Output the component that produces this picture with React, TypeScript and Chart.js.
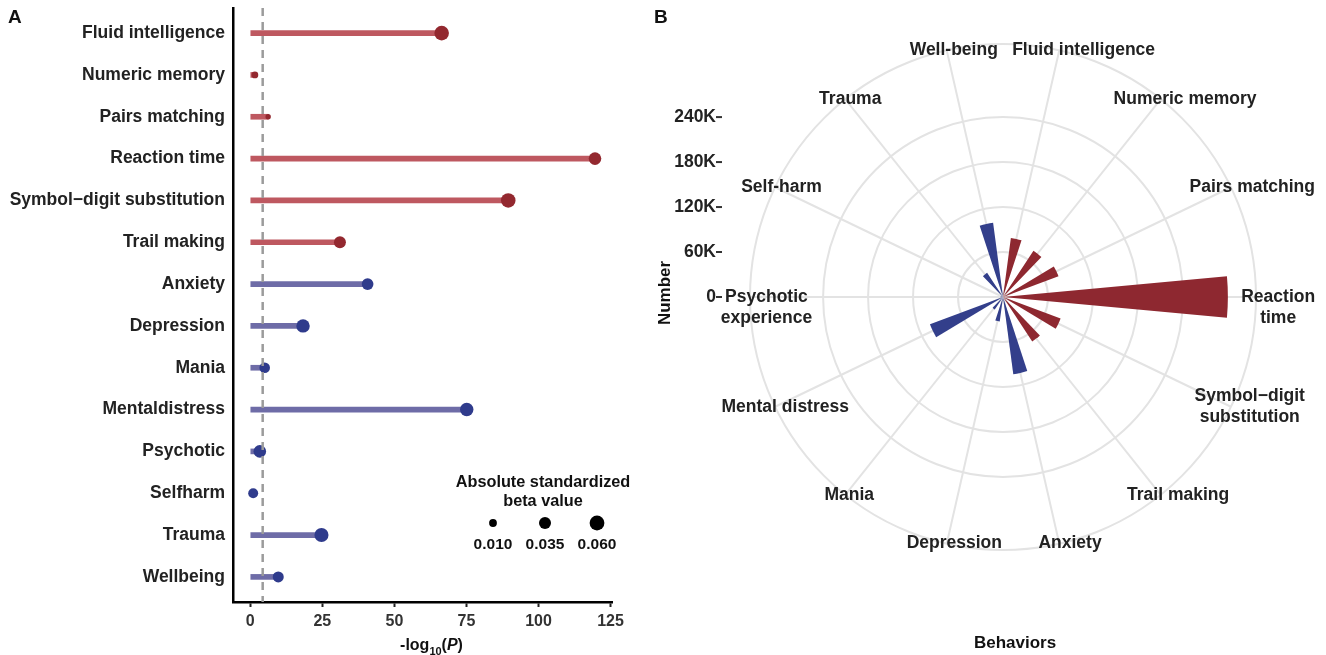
import React, { useEffect, useRef } from "react";
import { Chart, registerables } from "chart.js";

Chart.register(...registerables);

const FONT = '"Liberation Sans", Arial, Helvetica, sans-serif';
Chart.defaults.font.family = FONT;

// ---------- Panel A data ----------
const lollipopCategories = [
  "Fluid intelligence",
  "Numeric memory",
  "Pairs matching",
  "Reaction time",
  "Symbol\u2212digit substitution",
  "Trail making",
  "Anxiety",
  "Depression",
  "Mania",
  "Mentaldistress",
  "Psychotic",
  "Selfharm",
  "Trauma",
  "Wellbeing",
];
const behaviorGroup = [
  "cognition", "cognition", "cognition", "cognition", "cognition", "cognition",
  "mental", "mental", "mental", "mental", "mental", "mental", "mental", "mental",
];
const negLog10P = [66.4, 1.6, 6.2, 119.6, 89.5, 31.1, 40.7, 18.3, 5.0, 75.1, 3.3, 1.0, 24.7, 9.7];
const absBeta = [0.058, 0.006, 0.0025, 0.04, 0.058, 0.035, 0.033, 0.047, 0.025, 0.047, 0.04, 0.021, 0.053, 0.028];
const significanceThreshold = 4.3;
const xTickValues = [0, 25, 50, 75, 100, 125];
const xAxisMin = -6.0;
const xAxisMax = 125.5;
const sizeLegendValues = [0.01, 0.035, 0.06];
const sizeLegendLabels = ["0.010", "0.035", "0.060"];

// ---------- Panel B data ----------
const polarLabels = [
  ["Fluid intelligence"],
  ["Numeric memory"],
  ["Pairs matching"],
  ["Reaction", "time"],
  ["Symbol\u2212digit", "substitution"],
  ["Trail making"],
  ["Anxiety"],
  ["Depression"],
  ["Mania"],
  ["Mental distress"],
  ["Psychotic", "experience"],
  ["Self-harm"],
  ["Trauma"],
  ["Well-being"],
];
const sampleNumbers = [79500, 74000, 79000, 300000, 82000, 71000, 104000, 33000, 20000, 104000, 4000, 3000, 38600, 100000];
const radialTickValues = [0, 60000, 120000, 180000, 240000];
const radialTickLabels = ["0", "60K", "120K", "180K", "240K"];

const COLORS = {
  cognitionLine: "#be5860",
  cognitionDot: "#93282f",
  mentalLine: "#6e6ca7",
  mentalDot: "#2f3b8c",
  cognitionBar: "#8e2830",
  mentalBar: "#333f8b",
  grid: "#e3e3e3",
  text: "#222222",
};

const betaToRadius = (b: number) => 1.5 + 24 * Math.sqrt(b);
const BAR_WIDTH_FRACTION = 0.41;

const pointAt = (scale: any, angle: number, dist: number) => ({
  x: scale.xCenter + Math.cos(angle) * dist,
  y: scale.yCenter + Math.sin(angle) * dist,
});

const panelAPlugin = {
  id: "panelA",
  afterDatasetsDraw(chart: any) {
    const { ctx, chartArea, scales } = chart;
    const px = scales.x.getPixelForValue(significanceThreshold);
    ctx.save();
    ctx.strokeStyle = "#9b9b9b";
    ctx.lineWidth = 2.5;
    ctx.setLineDash([8, 6]);
    ctx.beginPath();
    ctx.moveTo(px, chartArea.top);
    ctx.lineTo(px, chartArea.bottom);
    ctx.stroke();
    ctx.restore();
  },
  afterDraw(chart: any) {
    const { ctx, chartArea } = chart;
    ctx.save();
    ctx.fillStyle = "#111";
    ctx.textBaseline = "middle";
    ctx.font = `bold 19px ${FONT}`;
    ctx.textAlign = "left";
    ctx.fillText("A", 8, 18);

    const parts = [
      { t: "-log", f: `bold 16px ${FONT}`, dy: 0 },
      { t: "10", f: `bold 11px ${FONT}`, dy: 5 },
      { t: "(", f: `bold 16px ${FONT}`, dy: 0 },
      { t: "P", f: `italic bold 16px ${FONT}`, dy: 0 },
      { t: ")", f: `bold 16px ${FONT}`, dy: 0 },
    ];
    let total = 0;
    parts.forEach((p) => {
      ctx.font = p.f;
      total += ctx.measureText(p.t).width;
    });
    let x = (chartArea.left + chartArea.right) / 2 + 9 - total / 2;
    ctx.textBaseline = "alphabetic";
    parts.forEach((p) => {
      ctx.font = p.f;
      ctx.fillText(p.t, x, 650 + p.dy);
      x += ctx.measureText(p.t).width;
    });

    const cx = chartArea.right - 67;
    const top = chartArea.bottom - 119;
    ctx.textAlign = "center";
    ctx.textBaseline = "middle";
    ctx.font = `bold 16.3px ${FONT}`;
    ctx.fillText("Absolute standardized", cx - 2, top);
    ctx.fillText("beta value", cx - 2, top + 19);
    ctx.font = `bold 15.5px ${FONT}`;
    sizeLegendValues.forEach((b, i) => {
      const lx = cx - 52 + i * 52;
      ctx.beginPath();
      ctx.fillStyle = "#000";
      ctx.arc(lx, top + 40, betaToRadius(b), 0, Math.PI * 2);
      ctx.fill();
      ctx.fillStyle = "#111";
      ctx.fillText(sizeLegendLabels[i], lx, top + 62);
    });
    ctx.restore();
  },
};

const panelBPlugin = {
  id: "panelB",
  afterDatasetsUpdate(chart: any) {
    const meta = chart.getDatasetMeta(0);
    meta.data.forEach((arc: any) => {
      const mid = (arc.startAngle + arc.endAngle) / 2;
      const half = ((arc.endAngle - arc.startAngle) / 2) * BAR_WIDTH_FRACTION;
      arc.startAngle = mid - half;
      arc.endAngle = mid + half;
    });
  },
  beforeDatasetsDraw(chart: any) {
    const { ctx } = chart;
    const scale = chart.scales.r;
    const n = polarLabels.length;
    ctx.save();
    ctx.strokeStyle = COLORS.grid;
    ctx.lineWidth = 2;
    for (let i = 0; i < n; i++) {
      const angle = scale.getIndexAngle(i) + Math.PI / n - Math.PI / 2;
      const end = pointAt(scale, angle, scale.drawingArea);
      ctx.beginPath();
      ctx.moveTo(scale.xCenter, scale.yCenter);
      ctx.lineTo(end.x, end.y);
      ctx.stroke();
    }
    ctx.restore();
  },
  afterDraw(chart: any) {
    const { ctx } = chart;
    const scale = chart.scales.r;
    const n = polarLabels.length;
    ctx.save();
    ctx.fillStyle = COLORS.text;
    ctx.textBaseline = "middle";

    ctx.font = `bold 17.5px ${FONT}`;
    const lh = 21;
    polarLabels.forEach((lines, i) => {
      const angle = scale.getIndexAngle(i) + Math.PI / n - Math.PI / 2;
      const p = pointAt(scale, angle, scale.drawingArea);
      const w = Math.max(...lines.map((l) => ctx.measureText(l).width));
      const horizontal = Math.abs(Math.sin(angle)) < 0.05;
      const rightSide = Math.cos(angle) > 0;
      const frac = horizontal ? (rightSide ? 0.2 : 0.32) : rightSide ? 0.33 : 0.42;
      const left = p.x - frac * w;
      const firstY = horizontal ? p.y : p.y - ((lines.length - 1) * lh) / 2;
      ctx.textAlign = "center";
      lines.forEach((l, k) => ctx.fillText(l, left + w / 2, firstY + k * lh));
    });

    const axisX = scale.xCenter - scale.drawingArea - 28;
    ctx.font = `bold 17.5px ${FONT}`;
    ctx.textAlign = "right";
    ctx.strokeStyle = "#333";
    ctx.lineWidth = 2;
    radialTickValues.forEach((v, i) => {
      const y = scale.yCenter - scale.getDistanceFromCenterForValue(v);
      ctx.fillText(radialTickLabels[i], axisX - 6, y);
      ctx.beginPath();
      ctx.moveTo(axisX - 6, y);
      ctx.lineTo(axisX, y);
      ctx.stroke();
    });

    ctx.fillStyle = "#111";
    ctx.font = `bold 17px ${FONT}`;
    ctx.textAlign = "center";
    ctx.fillText("Behaviors", scale.xCenter + 12, 643);
    ctx.save();
    ctx.translate(axisX - 57, scale.yCenter - 4);
    ctx.rotate(-Math.PI / 2);
    ctx.fillText("Number", 0, 0);
    ctx.restore();

    ctx.font = `bold 19px ${FONT}`;
    ctx.textAlign = "left";
    ctx.fillText("B", 14, 18);
    ctx.restore();
  },
};

export default function App() {
  const refA = useRef<HTMLCanvasElement | null>(null);
  const refB = useRef<HTMLCanvasElement | null>(null);

  useEffect(() => {
    const lineColors = behaviorGroup.map((g) => (g === "cognition" ? COLORS.cognitionLine : COLORS.mentalLine));
    const dotColors = behaviorGroup.map((g) => (g === "cognition" ? COLORS.cognitionDot : COLORS.mentalDot));
    const barColors = behaviorGroup.map((g) => (g === "cognition" ? COLORS.cognitionBar : COLORS.mentalBar));
    const points = negLog10P.map((v, i) => ({ x: v, y: i }));

    const chartA = new Chart(refA.current as HTMLCanvasElement, {
      type: "bar",
      data: {
        datasets: [
          {
            type: "scatter",
            data: points,
            pointRadius: absBeta.map(betaToRadius),
            pointHoverRadius: absBeta.map(betaToRadius),
            pointBackgroundColor: dotColors,
            pointBorderWidth: 0,
            order: 0,
          } as any,
          {
            type: "bar",
            data: points,
            backgroundColor: lineColors,
            barThickness: 5,
            borderWidth: 0,
            order: 1,
          } as any,
        ],
      },
      options: {
        indexAxis: "y",
        animation: false,
        responsive: false,
        maintainAspectRatio: false,
        layout: { padding: { left: 0, top: 8, right: 28, bottom: 0 } },
        plugins: { legend: { display: false }, tooltip: { enabled: false } },
        scales: {
          x: {
            type: "linear",
            position: "bottom",
            min: xAxisMin,
            max: xAxisMax,
            afterBuildTicks: (s: any) => {
              s.ticks = xTickValues.map((v) => ({ value: v }));
            },
            afterFit: (s: any) => {
              s.height = 53;
              s.paddingLeft = 0;
              s.paddingRight = 0;
            },
            grid: { display: true, drawOnChartArea: false, drawTicks: true, tickLength: 5, tickWidth: 2, tickColor: "#222" },
            border: { display: true, color: "#000", width: 2.5 },
            ticks: { autoSkip: false, maxRotation: 0, padding: 5, color: "#333", font: { size: 16, weight: "bold" } },
          },
          y: {
            type: "linear",
            position: "left",
            min: -0.6,
            max: 13.6,
            reverse: true,
            offset: false,
            afterBuildTicks: (s: any) => {
              s.ticks = lollipopCategories.map((_, i) => ({ value: i }));
            },
            afterFit: (s: any) => {
              s.width = 233;
              s.paddingTop = 0;
              s.paddingBottom = 0;
            },
            grid: { display: false, drawTicks: false },
            border: { display: true, color: "#000", width: 2.5 },
            ticks: {
              autoSkip: false,
              padding: 8,
              color: COLORS.text,
              font: { size: 17.5, weight: "bold" },
              callback: (v: any) => lollipopCategories[v as number],
            },
          },
        },
      } as any,
      plugins: [panelAPlugin],
    });

    const chartB = new Chart(refB.current as HTMLCanvasElement, {
      type: "polarArea",
      data: {
        labels: polarLabels.map((l) => l.join(" ")),
        datasets: [{ data: sampleNumbers, backgroundColor: barColors, borderWidth: 0 }],
      },
      options: {
        animation: false,
        responsive: false,
        maintainAspectRatio: false,
        layout: { padding: { left: 110, top: 44, right: 70, bottom: 105 } },
        plugins: { legend: { display: false }, tooltip: { enabled: false } },
        scales: {
          r: {
            min: 0,
            max: Math.max(...sampleNumbers) * 1.125,
            startAngle: 0,
            afterBuildTicks: (s: any) => {
              s.ticks = [...radialTickValues, s.max].map((v) => ({ value: v }));
            },
            ticks: { display: false },
            grid: { circular: true, color: COLORS.grid, lineWidth: 2 },
            angleLines: { display: false },
            pointLabels: { display: false },
          },
        },
      } as any,
      plugins: [panelBPlugin],
    });

    return () => {
      chartA.destroy();
      chartB.destroy();
    };
  }, []);

  return (
    <div style={{ position: "absolute", left: 0, top: 0, width: 1326, height: 655, background: "#fff" }}>
      <canvas ref={refA} width={640} height={655} style={{ position: "absolute", left: 0, top: 0, width: 640, height: 655 }} />
      <canvas ref={refB} width={686} height={655} style={{ position: "absolute", left: 640, top: 0, width: 686, height: 655 }} />
    </div>
  );
}
